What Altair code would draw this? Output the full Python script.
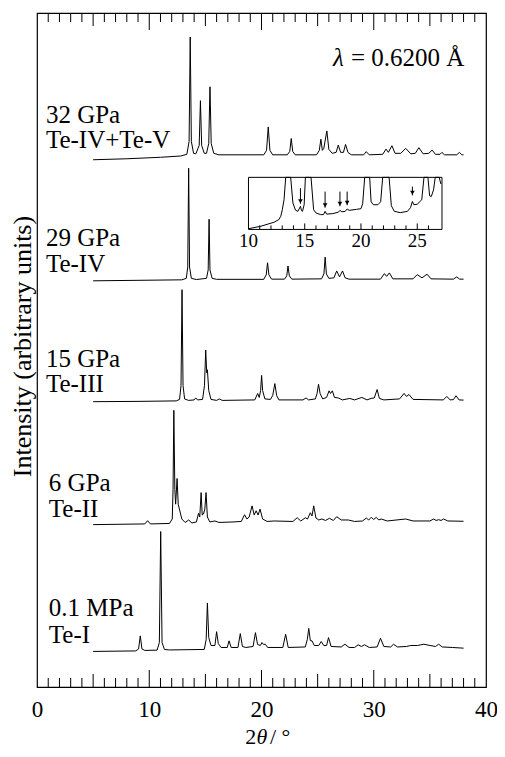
import altair as alt
import pandas as pd

# ---------------- data (2theta in degrees, intensity in arbitrary units) -------------
p32 = [(5.0,533.5),(8.0,534.5),(11.0,536),(12.8,537.3),(13.35,539),(13.55,552),(13.65,657.7),(13.75,552),
       (13.95,540),(14.15,539.5),(14.45,548),(14.56,593.3),(14.67,548),(14.9,540),(15.1,540),(15.3,550),
       (15.41,607.3),(15.52,550),(15.75,540),(16.2,538.5),(20.2,538.5),(20.45,543),(20.6,566.7),(20.75,543),
       (21.0,538.5),(22.3,538.5),(22.52,542),(22.65,555),(22.78,542),(23.0,538.5),(24.9,538.5),(25.15,543),
       (25.29,554.3),(25.42,543),(25.55,545),(25.82,562.7),(26.0,544),(26.3,540),(26.65,541),(26.84,548.3),
       (27.05,541),(27.3,541),(27.49,549),(27.7,541),(28.0,538.5),(29.1,538.5),(29.33,541.7),(29.6,538.5),
       (30.8,539),(31.09,544.3),(31.3,541),(31.62,547.7),(31.9,540),(32.4,540),(32.85,545),(33.3,539.5),
       (33.7,540),(34.02,545.7),(34.4,539.5),(34.9,540),(35.2,543.3),(35.5,539),(35.9,539),(36.07,541),
       (36.3,538.5),(37.4,538.5),(37.63,541),(37.85,538.5),(38.0,538.5)]

p29 = [(5.0,411),(9.0,411.5),(12.9,412),(13.3,413.5),(13.43,425),(13.51,525),(13.59,425),(13.75,413.5),
       (14.2,412.3),(15.1,413.5),(15.25,422),(15.33,473.3),(15.41,422),(15.6,413.5),(16.0,412.5),(20.2,412.5),
       (20.42,417),(20.54,429.3),(20.66,417),(20.9,412.7),(22.05,412.7),(22.25,416),(22.36,426),(22.48,416),
       (22.7,412.7),(25.35,413),(25.56,418),(25.67,435),(25.78,418),(26.0,413.5),(26.45,414),(26.7,421),
       (26.95,415),(27.22,421),(27.45,414),(27.8,412.7),(30.6,412.7),(30.95,418.3),(31.15,415.5),(31.39,419),
       (31.7,413),(33.5,413),(33.87,417.3),(34.3,414),(34.75,417.7),(35.1,413),(37.1,412.7),(37.39,415),
       (37.65,412.7),(38.0,412.7)]

p15 = [(5.0,288.7),(9.0,289),(12.4,289.5),(12.7,291),(12.83,305),(12.92,402),(13.01,305),(13.15,291.5),
       (13.5,290),(14.0,290.5),(14.15,292.5),(14.3,290.5),(14.75,291),(14.92,305),(15.03,341),(15.12,318),
       (15.18,321),(15.3,300),(15.5,291),(16.0,290),(16.24,291.5),(16.5,290),(19.4,290.5),(19.66,297),
       (19.8,293),(19.92,300),(20.01,315.3),(20.1,300),(20.3,291.5),(20.8,291),(21.0,295),(21.19,307),
       (21.35,295),(21.55,290.5),(23.7,290.5),(23.97,292.5),(24.2,290.5),(24.8,291.5),(24.95,297),(25.08,306.3),
       (25.22,297),(25.45,291.5),(25.8,293),(26.02,299.7),(26.15,297),(26.31,299.7),(26.5,293),(26.84,292.5),
       (27.2,290.5),(27.86,292),(28.3,290.5),(28.94,293),(29.4,290.5),(29.76,292),(30.05,292.5),(30.3,301),
       (30.5,292),(30.9,290.5),(32.3,291.5),(32.7,297),(32.92,294),(33.14,296),(33.5,291),(36.2,290.5),
       (36.51,294),(36.8,290.5),(37.1,290.8),(37.33,294.7),(37.6,290.5),(38.0,290.3)]

p6 = [(5.0,164.3),(9.6,165),(9.85,168.3),(10.1,165),(11.8,165.5),(12.05,170),(12.12,200),(12.19,280),
      (12.28,200),(12.35,185),(12.48,211),(12.58,185),(12.75,177),(12.9,170),(13.2,166.5),(13.51,169),
      (13.8,166),(14.2,167),(14.39,175.7),(14.5,172),(14.62,196.7),(14.72,174),(14.83,175),(14.95,180),
      (15.06,196.7),(15.18,172),(15.4,167),(15.85,168),(16.2,166.5),(17.46,167),(18.2,167.5),(18.49,174.3),
      (18.7,170),(18.9,172),(19.16,183.3),(19.35,174),(19.52,178.3),(19.7,174),(19.87,180),(20.1,170),
      (20.5,167.5),(21.13,168),(22.8,167.5),(23.18,171.3),(23.5,168),(23.91,171.3),(24.1,170),(24.35,176.3),
      (24.5,173),(24.65,183.3),(24.85,171),(25.1,169),(25.38,170),(25.7,168.5),(26.05,170.7),(26.4,168.5),
      (26.7,172.3),(27.1,169),(27.73,169),(28.3,167.5),(29.0,168),(29.34,171),(29.55,169),(29.78,171.7),
      (30.0,169.5),(30.22,171.7),(30.45,169),(30.66,170),(31.2,168),(32.85,170),(33.5,168),(35.0,168),
      (35.34,170),(35.55,168.5),(35.78,169.3),(36.0,168.5),(36.22,170),(36.6,168),(38.0,167.7)]

p01 = [(5.0,36),(8.8,36.5),(9.05,38.5),(9.2,51.7),(9.35,38.5),(9.6,37),(10.7,37.3),(10.9,45),(11.02,157.3),
       (11.14,45),(11.35,38),(11.8,37.5),(14.9,38),(15.07,48),(15.18,85),(15.3,50),(15.5,42),(15.85,42),
       (16.0,56),(16.15,44),(16.4,40),(16.95,40),(17.11,46.7),(17.3,40),(17.9,40),(18.11,54),(18.3,41),
       (18.6,40),(19.25,41),(19.46,55),(19.65,43),(19.9,42),(20.04,45),(20.18,43),(20.34,43.3),(20.55,40),
       (21.9,40),(22.15,53.3),(22.38,40),(23.9,40.5),(24.08,48),(24.21,59.3),(24.35,47),(24.5,46.7),(24.7,42),
       (25.1,42),(25.32,46),(25.55,42),(25.8,42),(25.97,50),(26.2,41),(27.1,40.5),(27.43,43.3),(27.8,40),
       (28.3,40),(28.61,42.7),(28.9,41),(29.19,42.7),(29.6,40),(30.3,40.5),(30.6,49.3),(30.9,41),(31.5,40.5),
       (31.77,43.3),(32.1,40.5),(32.9,41),(33.3,42),(33.9,42),(34.47,43.3),(35.0,42),(35.5,41),(35.78,43.3),
       (36.1,40.5),(37.0,40),(38.0,39.3)]

# inset: 29 GPa pattern, magnified (values above 52.7 leave the frame)
inset_pts = [(10.0,0.7),(11.12,3.3),(12.28,7.3),(12.7,10),(12.87,13.3),(13.01,20),(13.16,30),(13.31,52.7),
             (13.75,52.7),(13.95,26.7),(14.18,19.5),(14.39,18.3),(14.62,23.3),(14.72,19),(14.8,18.3),(14.95,25),
             (15.06,52.7),(15.56,52.7),(15.79,20),(16.0,16.7),(16.4,15),(16.67,15),(16.81,18.3),(16.95,15.5),
             (17.5,16),(18.0,17.5),(18.13,19.3),(18.3,17.8),(18.6,18.3),(18.77,20.7),(18.95,19.3),(19.6,20.3),
             (20.0,21),(20.15,26),(20.33,52.7),(20.77,52.7),(20.9,28),(21.1,25),(21.5,25),(21.75,28),(21.93,52.7),
             (22.5,52.7),(22.7,24),(22.96,18.3),(23.5,17),(24.13,18.3),(24.4,22),(24.57,28.3),(24.7,25),
             (25.0,25.5),(25.4,30),(25.6,52.7),(25.95,52.7),(26.1,34),(26.25,33.3),(26.45,40),(26.6,52.7),
             (26.95,52.7),(27.1,46)]
arrow_x = [14.62, 16.81, 18.13, 18.77, 24.57]
arrow_top = [41.7, 38.3, 38.3, 38.3, 43.3]
arrow_tip = [26.0, 22.0, 23.5, 24.5, 34.5]

x_tick_labels = [0, 10, 20, 30, 40]
minor_ticks = [1,2,3,4,6,7,8,9,11,12,13,14,16,17,18,19,21,22,23,24,26,27,28,29,31,32,33,34,36,37,38,39]
mid_ticks = [5, 15, 25, 35]
major_ticks = [10, 20, 30]
inset_tick_labels = [10, 15, 20, 25]
inset_minor = [11,12,13,14,16,17,18,19,21,22,23,24,26]
inset_major = [15, 20, 25]

labels = [("32 GPa", "Te-IV+Te-V"), ("29 GPa", "Te-IV"), ("15 GPa", "Te-III"),
          ("6 GPa", "Te-II"), ("0.1 MPa", "Te-I")]

# ---------------- build -------------
FONT = "Liberation Serif"
W, H = 449, 674
SX, SY = W / 455.0, H / 682.0   # layout positions below are given for a 455x682 frame

traces = [("32 GPa", p32), ("29 GPa", p29), ("15 GPa", p15), ("6 GPa", p6), ("0.1 MPa", p01)]
rows = []
for name, pts in traces:
    for i, (x, y) in enumerate(pts):
        rows.append({"trace": name, "x": x, "y": y, "i": i})
df = pd.DataFrame(rows)

xs = alt.Scale(domain=[0, 40], nice=False, zero=False)
ys = alt.Scale(domain=[0, 682], nice=False, zero=False)
xaxis = alt.Axis(values=x_tick_labels, ticks=False, tickSize=0, domain=False, grid=False,
                 labelFont=FONT, labelFontSize=23, labelColor="black", labelPadding=11,
                 labelFlush=False, labelOverlap=False, labelBound=False, title=None, format="d")

lines = alt.Chart(df).mark_line(color="black", strokeWidth=1).encode(
    x=alt.X("x:Q", scale=xs, axis=xaxis),
    y=alt.Y("y:Q", scale=ys, axis=None),
    detail="trace:N",
    order="i:Q",
)

tick_layers = []
for vals, ln in [(minor_ticks, 9), (mid_ticks, 13), (major_ticks, 17)]:
    tdf = pd.DataFrame({"t": vals})
    base = alt.Chart(tdf).mark_rule(color="black", strokeWidth=1)
    tick_layers.append(base.encode(x=alt.X("t:Q", scale=xs, axis=xaxis),
                                   y=alt.value(H), y2=alt.value(H - ln)))
    tick_layers.append(base.encode(x=alt.X("t:Q", scale=xs, axis=xaxis),
                                   y=alt.value(0), y2=alt.value(ln)))

one = pd.DataFrame({"a": [0]})


def txt(s, x, y, size=25, style="normal", align="left", angle=0, scale_y=True):
    yy = y * SY if scale_y else y
    return alt.Chart(one).mark_text(text=s, font=FONT, fontSize=size, fontStyle=style,
                                    align=align, baseline="alphabetic", color="black",
                                    angle=angle).encode(x=alt.value(x * SX), y=alt.value(yy))


label_pos = [(9, 111, 137), (9, 236, 262), (9, 358, 384), (12, 484, 510), (12, 610, 637)]
texts = []
for (l1, l2), (lx, y1, y2) in zip(labels, label_pos):
    texts.append(txt(l1, lx, y1))
    texts.append(txt(l2, lx, y2))

texts.append(txt("λ", 300, 54, style="italic"))
texts.append(txt("= 0.6200 Å", 433, 54, align="right"))
texts.append(txt("2", 211, 731, size=22, scale_y=False))
texts.append(txt("θ", 222.5, 731, size=22, style="italic", scale_y=False))
texts.append(txt("/ °", 236, 731, size=22, scale_y=False))
texts.append(txt("Intensity (arbitrary units)", -5.6, 337.5, size=26, align="center", angle=270))

main = alt.layer(lines, *tick_layers, *texts)

# ---------------- inset -------------
ixs = alt.Scale(domain=[10, 27.2], range=[214.3 * SX, 410.4 * SX], nice=False, zero=False)
iys = alt.Scale(domain=[0, 52.7], range=[219 * SY, 166.3 * SY], nice=False, zero=False)

idf = pd.DataFrame([{"x": x, "y": y, "i": i} for i, (x, y) in enumerate(inset_pts)])
inset_line = alt.Chart(idf).mark_line(color="black", strokeWidth=1).encode(
    x=alt.X("x:Q", scale=ixs, axis=None),
    y=alt.Y("y:Q", scale=iys, axis=None),
    order="i:Q",
)
frame = alt.Chart(one).mark_rect(fill=None, stroke="black", strokeWidth=1).encode(
    x=alt.datum(10, scale=ixs, axis=None), x2=alt.datum(27.2),
    y=alt.datum(0, scale=iys, axis=None), y2=alt.datum(52.7),
)
inset_ticks = []
for vals, ln in [(inset_minor, 4), (inset_major, 6)]:
    inset_ticks.append(alt.Chart(pd.DataFrame({"t": vals})).mark_rule(color="black", strokeWidth=1).encode(
        x=alt.X("t:Q", scale=ixs, axis=None), y=alt.value(219 * SY), y2=alt.value(219 * SY - ln)))
inset_lab = alt.Chart(pd.DataFrame({"t": inset_tick_labels})).mark_text(
    font=FONT, fontSize=19, align="center", baseline="alphabetic", color="black").encode(
    x=alt.X("t:Q", scale=ixs, axis=None), y=alt.value(237 * SY), text="t:Q")

adf = pd.DataFrame({"x": arrow_x, "top": arrow_top, "tip": arrow_tip})
arrow_shaft = alt.Chart(adf).mark_rule(color="black", strokeWidth=1).encode(
    x=alt.X("x:Q", scale=ixs, axis=None),
    y=alt.Y("top:Q", scale=iys, axis=None), y2="tip:Q")
arrow_head = alt.Chart(adf).mark_point(shape="triangle-down", filled=True, color="black",
                                       size=22, opacity=1, yOffset=-2.5).encode(
    x=alt.X("x:Q", scale=ixs, axis=None),
    y=alt.Y("tip:Q", scale=iys, axis=None))

inset = alt.layer(frame, inset_line, *inset_ticks, inset_lab, arrow_shaft, arrow_head)

chart = alt.layer(main, inset).resolve_scale(x="independent", y="independent").properties(
    width=W, height=H,
    padding={"left": 29, "top": 5, "right": 11, "bottom": 741 - 5 - H},
    autosize=alt.AutoSizeParams(type="none"),
    background="white",
).configure_view(stroke="black", strokeWidth=1.2)

chart.save("out.html", embed_options={"renderer": "svg", "actions": False})
